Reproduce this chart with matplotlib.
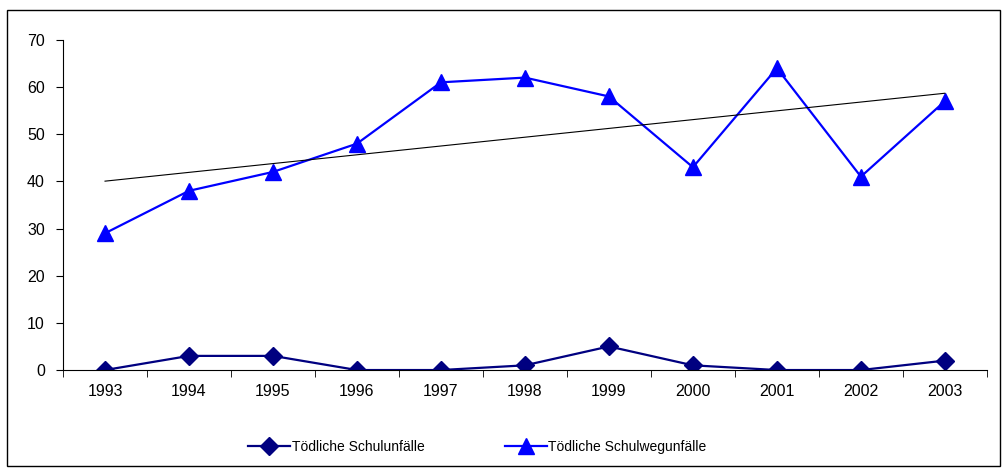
import numpy as np
import matplotlib
matplotlib.use("Agg")
import matplotlib.pyplot as plt
from matplotlib.patches import Rectangle

plt.rcParams["font.family"] = ["Liberation Sans", "DejaVu Sans"]

# Daten
jahre = ["1993", "1994", "1995", "1996", "1997", "1998", "1999", "2000", "2001", "2002", "2003"]
schulunfaelle = [0, 3, 3, 0, 0, 1, 5, 1, 0, 0, 2]
schulwegunfaelle = [29, 38, 42, 48, 61, 62, 58, 43, 64, 41, 57]

fig = plt.figure(figsize=(10.07, 4.69), dpi=100)
ax = fig.add_axes([0.0626, 0.211, 0.9174, 0.704])

x = np.arange(len(jahre))
ax.plot(x, schulunfaelle, color="#000080", lw=1.6, marker="D", ms=9,
        label="Tödliche Schulunfälle")
ax.plot(x, schulwegunfaelle, color="#0000FF", lw=1.6, marker="^", ms=11,
        label="Tödliche Schulwegunfälle")

# lineare Trendlinie
m, b = np.polyfit(x, schulwegunfaelle, 1)
ax.plot(x, m * x + b, color="black", lw=0.8)

ax.set_xlim(-0.5, len(jahre) - 0.5)
ax.set_ylim(0, 70)
ax.set_yticks(range(0, 71, 10))
ax.set_xticks(x)
ax.set_xticklabels(jahre)
ax.set_xticks(np.arange(-0.5, len(jahre), 1), minor=True)
ax.tick_params(axis="x", which="major", length=0, pad=10, labelsize=11.5)
ax.tick_params(axis="x", which="minor", length=5, direction="out")
ax.tick_params(axis="y", length=5, direction="out", labelsize=11.5, pad=8)
for s in ["top", "right"]:
    ax.spines[s].set_visible(False)
ax.spines["bottom"].set_clip_on(False)

fig.legend(loc="center", bbox_to_anchor=(0.474, 0.047), ncol=2, frameon=False,
           fontsize=10, handlelength=3.0, columnspacing=5.8, handletextpad=0.1)

# Rahmen um die ganze Grafik
fig.patches.append(Rectangle((0.007, 0.006), 0.986, 0.973, transform=fig.transFigure,
                             fill=False, edgecolor="black", lw=1))

fig.savefig("out.png", dpi=100)
